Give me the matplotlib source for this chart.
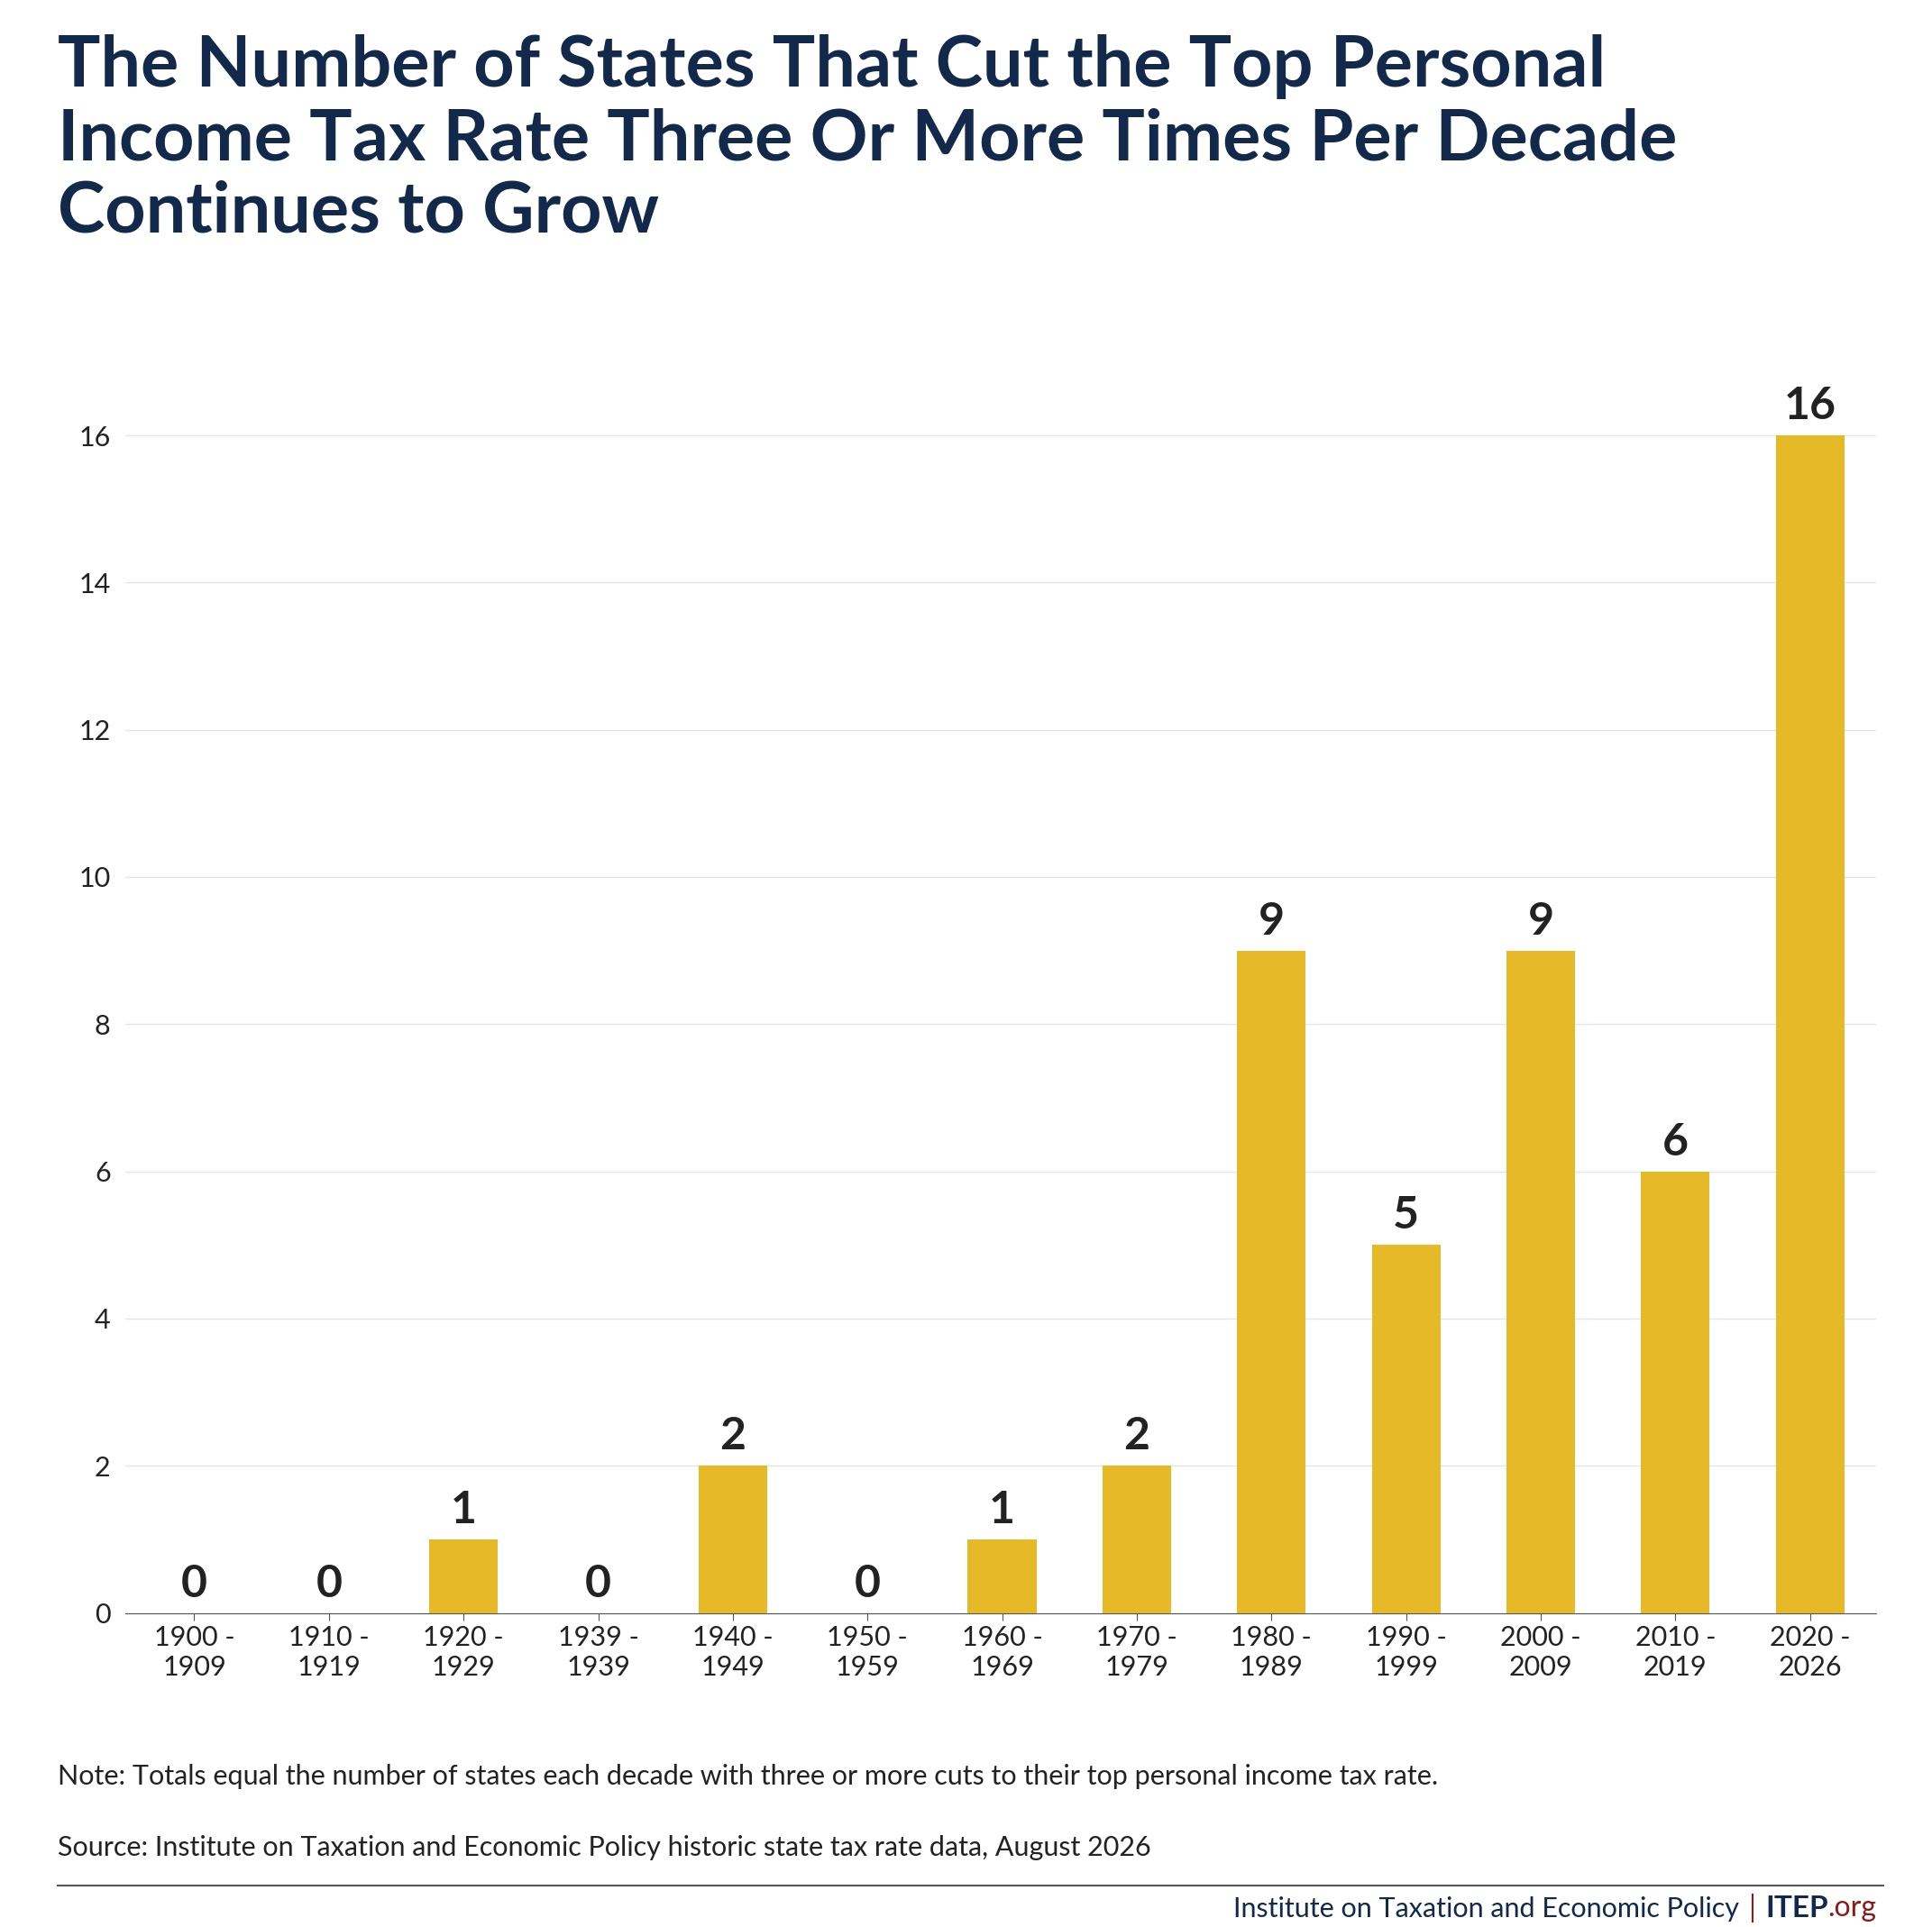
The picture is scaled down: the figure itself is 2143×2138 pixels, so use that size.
import matplotlib
matplotlib.use('Agg')
from matplotlib import pyplot as plt
from matplotlib.lines import Line2D

decades = ['1900 -\n1909', '1910 -\n1919', '1920 -\n1929', '1939 -\n1939', '1940 -\n1949',
           '1950 -\n1959', '1960 -\n1969', '1970 -\n1979', '1980 -\n1989', '1990 -\n1999',
           '2000 -\n2009', '2010 -\n2019', '2020 -\n2026']
states = [0, 0, 1, 0, 2, 0, 1, 2, 9, 5, 9, 6, 16]
yticks = [0, 2, 4, 6, 8, 10, 12, 14, 16]

navy = '#13294b'
plt.rcParams['font.family'] = ['Lato', 'DejaVu Sans']

fig = plt.figure(figsize=(21.43, 21.38), dpi=100)
ax = fig.add_axes([0.065, 0.163, 0.906, 0.634])

x = range(len(states))
ax.bar(x, states, width=0.51, color='#e6b929', zorder=3)
for i, v in enumerate(states):
    ax.text(i, v + 0.12, str(v), ha='center', va='bottom', fontsize=36,
            fontweight='bold', color='#222222')

ax.set_xlim(-0.51, 12.49)
ax.set_ylim(0, 16.6)
ax.set_yticks(yticks)
ax.set_xticks(list(x))
ax.set_xticklabels(decades)
ax.tick_params(axis='both', labelsize=22, colors='#222222', length=0, pad=12)
ax.tick_params(axis='x', length=6, color='#555555', pad=4)
ax.grid(axis='y', color='#e6e6e6', lw=1, zorder=0)
for s in ['top', 'right', 'left']:
    ax.spines[s].set_visible(False)
ax.spines['bottom'].set_color('#555555')

fig.text(0.03, 0.982, 'The Number of States That Cut the Top Personal\n'
         'Income Tax Rate Three Or More Times Per Decade\nContinues to Grow',
         ha='left', va='top', fontsize=57, fontweight='bold', color=navy, linespacing=1.15)

fig.text(0.03, 0.078, 'Note: Totals equal the number of states each decade with three or more cuts to their top personal income tax rate.',
         fontsize=22, color='#222222', va='center')
fig.text(0.03, 0.041, 'Source: Institute on Taxation and Economic Policy historic state tax rate data, August 2026',
         fontsize=22, color='#222222', va='center')
fig.add_artist(Line2D([0.03, 0.975], [0.0215, 0.0215], color='#555555', lw=1.5))
fig.text(0.90, 0.003, 'Institute on Taxation and Economic Policy', ha='right', va='bottom',
         fontsize=22, color=navy)
fig.add_artist(Line2D([0.907, 0.907], [0.003, 0.017], color='#8b1a1a', lw=1.5))
fig.text(0.914, 0.003, 'ITEP', ha='left', va='bottom', fontsize=24, fontweight='bold', color=navy)
fig.text(0.946, 0.003, '.org', ha='left', va='bottom', fontsize=23, color='#8b1a1a')

plt.savefig('out.png', dpi=100)
